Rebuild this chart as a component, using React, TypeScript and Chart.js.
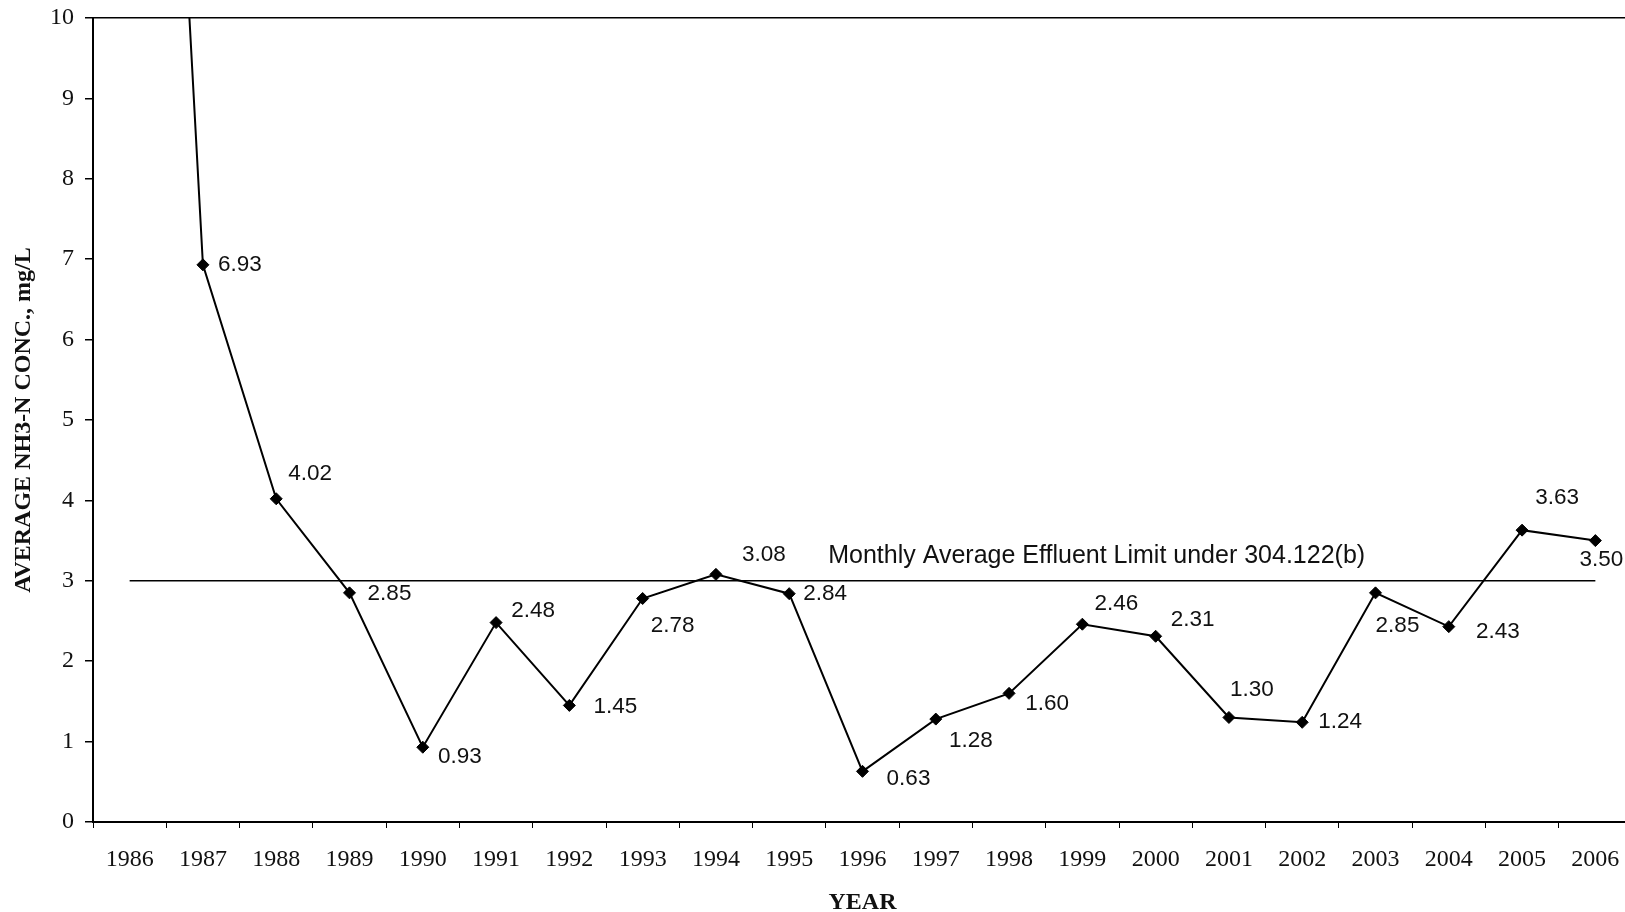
import React, { useEffect, useRef } from "react";
import { Chart, registerables } from "chart.js";

Chart.register(...registerables);

const years = ["1986", "1987", "1988", "1989", "1990", "1991", "1992", "1993", "1994", "1995", "1996", "1997", "1998", "1999", "2000", "2001", "2002", "2003", "2004", "2005", "2006"];
const nh3Values = [23.6, 6.93, 4.02, 2.85, 0.93, 2.48, 1.45, 2.78, 3.08, 2.84, 0.63, 1.28, 1.6, 2.46, 2.31, 1.3, 1.24, 2.85, 2.43, 3.63, 3.5];
const limitValues = [3, 3, 3, 3, 3, 3, 3, 3, 3, 3, 3, 3, 3, 3, 3, 3, 3, 3, 3, 3, 3];
const yTicks = [0, 1, 2, 3, 4, 5, 6, 7, 8, 9, 10];
const limitText = "Monthly Average Effluent Limit under 304.122(b)";

// label offsets (style only), pixels relative to the point
const labelOffsets: [number, number][] = [
  [0, 0], [37, 0], [34, -25], [40, 1], [37, 10], [37, -12], [46, 1], [30, 27], [48, -20], [36, 0],
  [46, 7], [35, 22], [38, 10], [34, -20], [37, -16], [23, -28], [38, -1], [22, 33], [49, 5], [35, -32], [6, 19],
];

const labelPlugin = {
  id: "pointLabels",
  afterDatasetsDraw(chart: any) {
    const ctx = chart.ctx;
    const meta = chart.getDatasetMeta(0);
    ctx.save();
    ctx.fillStyle = "#111";
    ctx.font = '22.5px "Liberation Sans", Arial, sans-serif';
    ctx.textAlign = "center";
    ctx.textBaseline = "middle";
    meta.data.forEach((pt: any, i: number) => {
      const v = nh3Values[i];
      if (v > 10) return;
      const [dx, dy] = labelOffsets[i];
      ctx.fillText(v.toFixed(2), pt.x + dx, pt.y + dy);
    });
    const xs = chart.scales.x;
    const ys = chart.scales.y;
    ctx.font = '25px "Liberation Sans", Arial, sans-serif';
    ctx.textAlign = "left";
    ctx.fillText(limitText, xs.getPixelForValue(9) + 39, ys.getPixelForValue(limitValues[9]) - 25);
    ctx.restore();
  },
};

export default function App() {
  const ref = useRef<HTMLCanvasElement>(null);
  useEffect(() => {
    document.body.style.margin = "0";
    document.body.style.overflow = "hidden";
    document.documentElement.style.overflow = "hidden";
    if (!ref.current) return;
    const chart = new Chart(ref.current, {
      type: "line",
      data: {
        labels: years,
        datasets: [
          {
            data: nh3Values,
            borderColor: "#000",
            backgroundColor: "#000",
            borderWidth: 2,
            pointStyle: "rectRot",
            pointRadius: 6,
            pointBorderWidth: 1,
            pointBorderColor: "#000",
            pointBackgroundColor: "#000",
            tension: 0,
          },
          {
            data: limitValues,
            borderColor: "#000",
            borderWidth: 1.5,
            pointRadius: 0,
            tension: 0,
          },
        ],
      },
      options: {
        responsive: false,
        animation: false,
        events: [],
        layout: { padding: { left: 0, right: 8, top: 18, bottom: 0 } },
        plugins: { legend: { display: false }, tooltip: { enabled: false } },
        scales: {
          x: {
            type: "category",
            offset: true,
            grid: { offset: true, color: "rgba(0,0,0,0)", tickColor: "#000", tickLength: 6, lineWidth: 1 },
            border: { display: true, color: "#000", width: 2 },
            ticks: { color: "#111", font: { family: '"Liberation Serif", "Times New Roman", serif', size: 24 }, padding: 17, maxRotation: 0, autoSkip: false },
            title: {
              display: true,
              text: "YEAR",
              color: "#111",
              font: { family: '"Liberation Serif", "Times New Roman", serif', size: 24, weight: "bold", lineHeight: 1 },
              padding: { top: 0, bottom: -3 },
            },
            afterFit: (scale: any) => {
              scale.height = 90;
              scale.paddingLeft = 0;
              scale.paddingRight = 0;
            },
          },
          y: {
            min: 0,
            max: 10,
            afterBuildTicks: (scale: any) => {
              scale.ticks = yTicks.map((v) => ({ value: v }));
            },
            grid: {
              color: (c: any) => (c.tick && c.tick.value === 10 ? "#000" : "rgba(0,0,0,0)"),
              tickColor: "#000",
              tickLength: 8,
              lineWidth: 1.5,
            },
            border: { display: true, color: "#000", width: 2 },
            ticks: { color: "#111", font: { family: '"Liberation Serif", "Times New Roman", serif', size: 24 }, padding: 11 },
            title: {
              display: true,
              text: "AVERAGE NH3-N CONC., mg/L",
              color: "#111",
              font: { family: '"Liberation Serif", "Times New Roman", serif', size: 24, weight: "bold", lineHeight: 1 },
              padding: { top: 12, bottom: 0 },
            },
            afterFit: (scale: any) => {
              scale.width = 93;
              scale.paddingTop = 0;
              scale.paddingBottom = 0;
            },
          },
        },
      },
      plugins: [labelPlugin],
    });
    return () => chart.destroy();
  }, []);
  return (
    <div style={{ width: 1640, height: 912 }}>
      <canvas ref={ref} width={1640} height={912} style={{ display: "block" }} />
    </div>
  );
}
